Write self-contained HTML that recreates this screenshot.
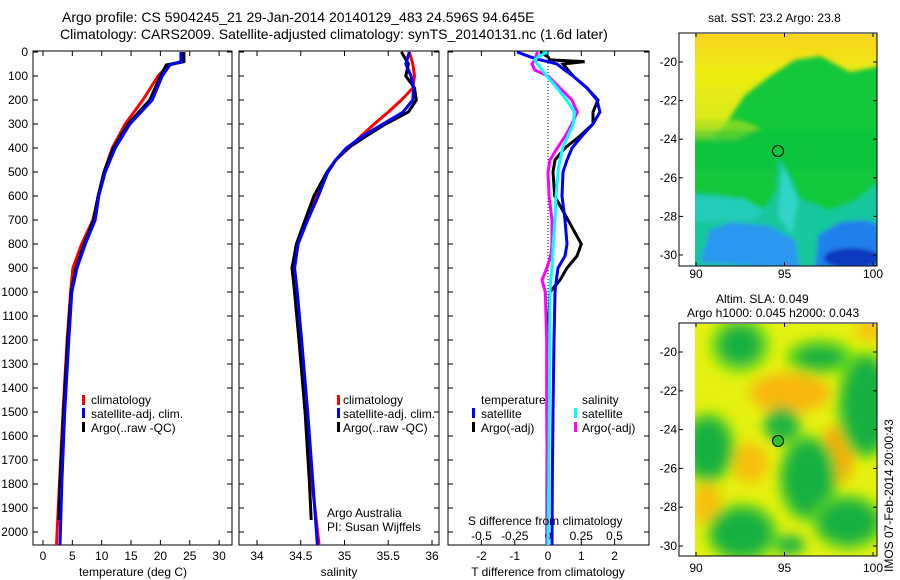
<!DOCTYPE html>
<html><head><meta charset="utf-8">
<style>
html,body{margin:0;padding:0;background:#fff;}
svg{display:block;font-family:"Liberation Sans",sans-serif;}
text{font-size:12px;fill:#000;}
</style></head>
<body>
<svg id="chart" width="900" height="580" viewBox="0 0 900 580" xmlns="http://www.w3.org/2000/svg">
<defs>
<clipPath id="c1"><rect x="33" y="51" width="199" height="494"/></clipPath>
<clipPath id="c2"><rect x="239" y="51" width="200" height="494"/></clipPath>
<clipPath id="c3"><rect x="448" y="51" width="201" height="494"/></clipPath>
<clipPath id="cm1"><rect x="695" y="34" width="182" height="232"/></clipPath>
<clipPath id="cm2"><rect x="695" y="324" width="182" height="232"/></clipPath>
<filter id="bl1"><feGaussianBlur stdDeviation="2"/></filter>
<filter id="bl2"><feGaussianBlur stdDeviation="6"/></filter>
<linearGradient id="yel" x1="0" y1="0" x2="0" y2="1"><stop offset="0" stop-color="#f8d020"/><stop offset="0.4" stop-color="#ecec10"/><stop offset="1" stop-color="#d0e818"/></linearGradient>
</defs>
<text x="62" y="22" style="font-size:14px">Argo profile: CS 5904245_21 29-Jan-2014 20140129_483 24.596S 94.645E</text>
<text x="60" y="39" style="font-size:14px">Climatology: CARS2009. Satellite-adjusted climatology: synTS_20140131.nc (1.6d later)</text>
<g id="axes"></g>
<g id="series"></g>

<g>
<rect x="82" y="395" width="3" height="10" fill="#f00"/><text x="91" y="404">climatology</text>
<rect x="82" y="408" width="3" height="10" fill="#00f"/><text x="91" y="418">satellite-adj. clim.</text>
<rect x="82" y="422" width="3" height="10" fill="#000"/><text x="91" y="432">Argo(..raw -QC)</text>
</g>
<g>
<rect x="337" y="395" width="3" height="10" fill="#f00"/><text x="343" y="404">climatology</text>
<rect x="337" y="408" width="3" height="10" fill="#00f"/><text x="343" y="418">satellite-adj. clim.</text>
<rect x="337" y="422" width="3" height="10" fill="#000"/><text x="343" y="432">Argo(..raw -QC)</text>
</g>
<text x="327" y="517">Argo Australia</text>
<text x="327" y="531">PI: Susan Wijffels</text>
<g>
<text x="481" y="404">temperature</text>
<rect x="472" y="408" width="3" height="10" fill="#00f"/><text x="481" y="418">satellite</text>
<rect x="472" y="422" width="3" height="10" fill="#000"/><text x="481" y="432">Argo(-adj)</text>
<text x="582" y="404">salinity</text>
<rect x="574" y="408" width="3" height="10" fill="#0ff"/><text x="582" y="418">satellite</text>
<rect x="574" y="422" width="3" height="10" fill="#f0f"/><text x="582" y="432">Argo(-adj)</text>
</g>
<text x="468" y="525">S difference from climatology</text>

<!-- SST map -->
<text x="708" y="22">sat. SST: 23.2 Argo: 23.8</text>
<g clip-path="url(#cm1)">
<rect x="695" y="34" width="182" height="232" fill="#14c83c"/>
<g filter="url(#bl1)">
<polygon points="690,30 880,30 880,66 850,72 820,56 795,60 770,76 745,95 725,125 712,138 690,138" fill="url(#yel)"/>
<polygon points="690,120 740,120 760,128 735,140 700,140 690,140" fill="#a8e020" opacity="0.7"/>
<polygon points="690,130 880,130 880,170 690,170" fill="#10c040" opacity="0.4"/>
<polygon points="778,158 790,175 800,198 830,210 855,200 880,180 880,270 690,270 690,192 730,196 765,208 776,190" fill="#14c89c"/>
<polygon points="783,165 798,200 792,235 778,215" fill="#30d4c8"/>
<polygon points="690,195 745,198 765,212 755,220 695,222" fill="#20ccb8"/>
<polygon points="700,262 710,230 730,222 770,226 795,240 800,270" fill="#2a98f0"/>
<polygon points="815,270 818,235 840,222 865,220 880,225 880,270" fill="#2080ec"/>
<ellipse cx="852" cy="258" rx="28" ry="10" fill="#1038c0"/>
</g>
</g>
<rect x="679" y="33" width="198" height="233" fill="none" stroke="#000"/>
<circle cx="778" cy="151" r="5.5" fill="none" stroke="#000"/>

<!-- SLA map -->
<text x="716" y="303">Altim. SLA: 0.049</text>
<text x="687" y="317">Argo h1000: 0.045 h2000: 0.043</text>
<g clip-path="url(#cm2)">
<rect x="695" y="324" width="182" height="232" fill="#e4f010"/>
<g filter="url(#bl2)">
<ellipse cx="790" cy="393" rx="40" ry="20" fill="#f8b810"/>
<ellipse cx="837" cy="455" rx="16" ry="30" fill="#f8a810"/>
<ellipse cx="750" cy="463" rx="18" ry="20" fill="#f8c010"/>
<ellipse cx="707" cy="503" rx="14" ry="22" fill="#f8c010"/>
<ellipse cx="870" cy="330" rx="14" ry="10" fill="#f8c010"/>
<ellipse cx="740" cy="345" rx="30" ry="28" fill="#70e010"/>
<ellipse cx="740" cy="345" rx="22" ry="20" fill="#14b040"/>
<ellipse cx="820" cy="357" rx="34" ry="18" fill="#60dc10"/>
<ellipse cx="820" cy="357" rx="24" ry="11" fill="#14b040"/>
<ellipse cx="866" cy="405" rx="30" ry="54" fill="#60dc10"/>
<ellipse cx="866" cy="405" rx="24" ry="48" fill="#14b040"/>
<ellipse cx="708" cy="448" rx="28" ry="36" fill="#60dc10"/>
<ellipse cx="708" cy="448" rx="22" ry="30" fill="#14b040"/>
<ellipse cx="782" cy="425" rx="18" ry="18" fill="#20b840"/>
<ellipse cx="808" cy="478" rx="30" ry="44" fill="#60dc10"/>
<ellipse cx="808" cy="478" rx="25" ry="38" fill="#14b040"/>
<ellipse cx="742" cy="533" rx="36" ry="30" fill="#60dc10"/>
<ellipse cx="742" cy="533" rx="30" ry="24" fill="#14b040"/>
<ellipse cx="848" cy="522" rx="36" ry="28" fill="#60dc10"/>
<ellipse cx="848" cy="522" rx="30" ry="22" fill="#14b040"/>
<ellipse cx="790" cy="545" rx="15" ry="10" fill="#20b840"/>
</g>
</g>
<rect x="679" y="323" width="198" height="233" fill="none" stroke="#000"/>
<circle cx="778" cy="441" r="5.5" fill="#30c030" stroke="#000"/>
<text transform="translate(893,572) rotate(-90)">IMOS 07-Feb-2014 20:00:43</text>
<g id="mapaxes"></g>
</svg>
<script>
// ---- data ----
const depthT = [0,40,54,100,200,300,400,500,600,700,800,900,1000,1200,1500,1800,2055];
const climT = [24.0,24.0,21.3,19.6,17.0,14.0,11.8,10.4,9.4,8.5,6.6,5.1,4.7,4.1,3.4,2.8,2.3];
const satT  = [23.5,23.5,21.6,20.3,18.6,14.8,12.3,10.6,9.5,8.9,7.2,5.8,4.9,4.4,3.7,3.2,2.9];
const depthArgoT = [0,40,54,100,200,300,400,500,600,700,800,900,1000,1200,1500,1800,1950];
const argoT = [24.0,24.0,21.0,20.0,18.2,14.5,12.0,10.4,9.4,8.6,7.0,5.6,4.8,4.2,3.5,2.9,2.7];
const depthS = [0,50,100,150,200,250,300,350,400,450,500,600,700,800,900,1000,1200,1500,1800,2055];
const climS = [35.74,35.78,35.80,35.78,35.65,35.5,35.34,35.19,35.05,34.9,34.81,34.67,34.56,34.45,34.42,34.43,34.48,34.55,34.63,34.71];
const satS  = [35.74,35.70,35.76,35.79,35.78,35.67,35.44,35.21,35.02,34.9,34.81,34.70,34.58,34.47,34.43,34.46,34.51,34.58,34.64,34.69];
const depthArgoS = [0,50,100,150,200,250,300,350,400,450,500,600,700,800,900,1000,1200,1500,1800,1950];
const argoS = [35.65,35.73,35.70,35.80,35.82,35.73,35.47,35.25,35.04,34.9,34.8,34.65,34.55,34.45,34.40,34.43,34.48,34.55,34.60,34.62];
const depthD = [0,20,33,40,50,75,100,150,200,250,300,350,400,450,500,600,700,800,850,900,950,1000,1200,1500,1800,2055];
const dTargo = [-0.24,0.0,0.06,1.1,0.45,0.6,0.75,1.17,1.5,1.35,1.35,0.96,0.51,0.21,0.15,0.2,0.6,1.0,0.87,0.57,0.36,0.06,0.0,-0.03,-0.03,-0.03];
const dTsat  = [-0.93,-0.54,-0.24,0.0,0.27,0.5,0.75,1.17,1.47,1.56,1.35,1.02,0.72,0.57,0.45,0.42,0.51,0.57,0.51,0.3,0.25,0.21,0.18,0.15,0.13,0.12];
const dSsat  = [-0.008,-0.075,-0.1,-0.09,-0.08,-0.045,-0.008,0.068,0.14,0.2,0.19,0.15,0.11,0.09,0.075,0.06,0.053,0.04,0.035,0.03,0.02,0.015,0.012,0.01,0.005,0.0];
const dSargo = [-0.08,-0.09,-0.1,-0.11,-0.12,-0.1,0.0,0.09,0.18,0.22,0.18,0.13,0.07,0.015,0.0,0.008,0.03,0.03,0.02,-0.008,-0.045,-0.02,-0.01,-0.01,-0.005,-0.005];
const depthTicks = [0,100,200,300,400,500,600,700,800,900,1000,1100,1200,1300,1400,1500,1600,1700,1800,1900,2000];
const tTicks = [0,5,10,15,20,25,30];
const sTicks = [34,34.5,35,35.5,36];
const sTickLabels = ["34","34.5","35","35.5","36"];
const dTTicks = [-2,-1,0,1,2];
const dSTicks = [-0.5,-0.25,0,0.25,0.5];
const dSTickLabels = ["-0.5","-0.25","0","0.25","0.5"];
const lonTicks = [90,95,100];
const latTicks = [-20,-22,-24,-26,-28,-30];

// ---- scales ----
const yD = d => 52 + 0.24*d;
const xT = t => 43 + 5.87*t;
const xS = s => 257 + 87.5*(s-34);
const xdT = v => 548 + 33.3*v;
const xdS = v => 548 + 133*v;
const lonX = l => 696 + 17.7*(l-90);
const latY1 = l => 62 + 19.3*(-20-l);
const latY2 = l => 352 + 19.4*(-20-l);

const NS = "http://www.w3.org/2000/svg";
const ax = document.getElementById('axes');
const se = document.getElementById('series');
const ma = document.getElementById('mapaxes');
function mk(tag, parent, attrs){const e=document.createElementNS(NS,tag);for(const k in attrs)e.setAttribute(k,attrs[k]);parent.appendChild(e);return e;}

const panels = [{x0:33,x1:232,n:'temperature'},{x0:239,x1:439,n:'salinity'},{x0:448,x1:649,n:'difference'}];
panels.forEach(p=>{
  const r = mk('rect',ax,{x:p.x0,y:51,width:p.x1-p.x0,height:494,fill:'none',stroke:'#000'});
  
  
  depthTicks.forEach(d=>{
    mk('line',ax,{x1:p.x0,x2:p.x0+5,y1:yD(d),y2:yD(d),stroke:'#000'});
    mk('line',ax,{x1:p.x1-5,x2:p.x1,y1:yD(d),y2:yD(d),stroke:'#000'});
  });
});
depthTicks.forEach(d=>{
  const t = mk('text',ax,{x:28,y:yD(d)+4,'text-anchor':'end'});
  t.textContent = d;
  
  
});
function xticks(vals, labels, sc, yl, name){
  vals.forEach((v,i)=>{
    mk('line',ax,{x1:sc(v),x2:sc(v),y1:51,y2:56,stroke:'#000'});
    mk('line',ax,{x1:sc(v),x2:sc(v),y1:540,y2:545,stroke:'#000'});
    const t = mk('text',ax,{x:sc(v),y:yl,'text-anchor':'middle'});
    t.textContent = labels[i];
    
    
  });
}
xticks(tTicks, tTicks.map(String), xT, 560, 'temperature-tick-label');
xticks(sTicks, sTickLabels, xS, 560, 'salinity-tick-label');
xticks(dTTicks, dTTicks.map(String), xdT, 560, 'tdiff-tick-label');
dSTicks.forEach((v,i)=>{
  const t = mk('text',ax,{x:xdS(v),y:540,'text-anchor':'middle'});
  t.textContent = dSTickLabels[i];
  
  
});
[['temperature (deg C)',133,'temperature-axis-title'],['salinity',339,'salinity-axis-title'],['T difference from climatology',548,'tdiff-axis-title']].forEach(a=>{
  const t = mk('text',ax,{x:a[1],y:576,'text-anchor':'middle'});
  t.textContent = a[0];
  
  
});
const zl = mk('line',ax,{x1:xdT(0),x2:xdT(0),y1:51,y2:545,stroke:'#000','stroke-dasharray':'1,2'});



function line(depths, vals, sx, color, clip, name){
  const pts = depths.map((d,i)=>sx(vals[i]).toFixed(1)+','+yD(d).toFixed(1)).join(' ');
  const pl = mk('polyline',se,{points:pts,fill:'none',stroke:color,'stroke-width':3,'clip-path':'url(#'+clip+')'});
  
  
}
line(depthT, climT, xT, '#f00', 'c1', 'temperature-climatology-line');
line(depthArgoT, argoT, xT, '#000', 'c1', 'temperature-argo-line');
line(depthT, satT, xT, '#00f', 'c1', 'temperature-satellite-line');
line(depthS, climS, xS, '#f00', 'c2', 'salinity-climatology-line');
line(depthArgoS, argoS, xS, '#000', 'c2', 'salinity-argo-line');
line(depthS, satS, xS, '#00f', 'c2', 'salinity-satellite-line');
line(depthD, dTargo, xdT, '#000', 'c3', 'tdiff-argo-line');
line(depthD, dTsat, xdT, '#00f', 'c3', 'tdiff-satellite-line');
line(depthD, dSargo, xdS, '#f0f', 'c3', 'sdiff-argo-line');
line(depthD, dSsat, xdS, '#0ff', 'c3', 'sdiff-satellite-line');

[[latY1,33,266,278],[latY2,323,556,572]].forEach(m=>{
  lonTicks.forEach(l=>{
    mk('line',ma,{x1:lonX(l),x2:lonX(l),y1:m[1],y2:m[1]+4,stroke:'#000'});
    mk('line',ma,{x1:lonX(l),x2:lonX(l),y1:m[2]-4,y2:m[2],stroke:'#000'});
    const t = mk('text',ma,{x:lonX(l),y:m[3],'text-anchor':'middle'});
    t.textContent = l;
    
    
  });
  latTicks.forEach(l=>{
    mk('line',ma,{x1:679,x2:683,y1:m[0](l),y2:m[0](l),stroke:'#000'});
    mk('line',ma,{x1:873,x2:877,y1:m[0](l),y2:m[0](l),stroke:'#000'});
    const t = mk('text',ma,{x:677,y:m[0](l)+4,'text-anchor':'end'});
    t.textContent = l;
    
    
  });
});
</script>
</body></html>
